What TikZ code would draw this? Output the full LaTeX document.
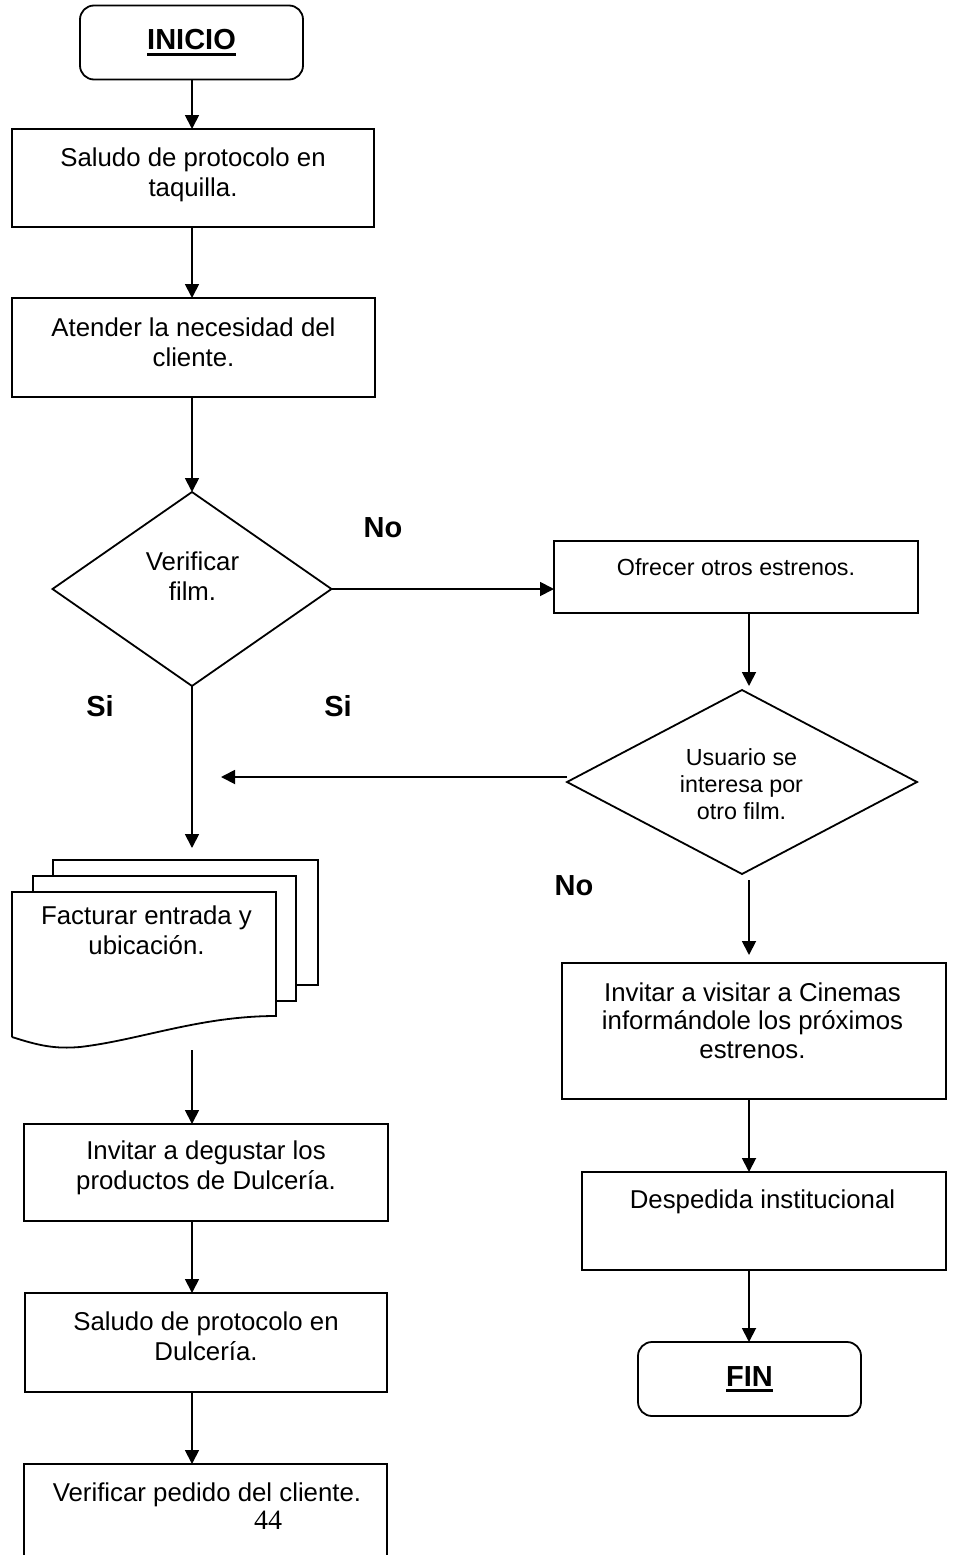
\documentclass[tikz,border=0pt]{standalone}
\usepackage{fontspec}
\setmainfont{Liberation Sans}
\newfontfamily\pagenumfont{Liberation Serif}
\usetikzlibrary{shapes.geometric,arrows.meta}
% bold title with a thick underline
\newcommand\ulword[1]{\vtop{\hbox{#1}\kern2.5pt\hrule height 3pt}}

\begin{document}
\begin{tikzpicture}[x=1pt,y=-1pt,line width=1.8pt,
  box/.style={draw,rectangle,inner sep=0pt,outer sep=0pt},
  term/.style={draw,rectangle,rounded corners=14pt,inner sep=0pt,outer sep=0pt,
    minimum width=223pt,minimum height=74pt,
    font=\bfseries\fontsize{29}{34}\selectfont},
  decision/.style={draw,diamond,inner sep=0pt,outer sep=0pt},
  txt/.style={align=center,inner sep=0pt,anchor=north,font=\fontsize{25.8}{30}\selectfont},
  smalltxt/.style={align=center,inner sep=0pt,anchor=north,font=\fontsize{23.3}{26.8}\selectfont},
  lbl/.style={inner sep=0pt,font=\bfseries\fontsize{29}{34}\selectfont},
  arr/.style={-{Triangle[length=14pt,width=14pt]}}]

\useasboundingbox (0,0) rectangle (954,1555);
\clip (0,0) rectangle (954,1555);

% column guides for the vertical connectors
\coordinate (lc) at (192,0);
\coordinate (rc) at (749,0);

% ---- left column ----
\node[term] (inicio) at (191.5,42.5) {\ulword{INICIO}};

\node[box,minimum width=362pt,minimum height=98pt] (b1) at (193,178) {};
\node[txt] (b1t) at (193,147) {Saludo de protocolo en\\taquilla.};

\node[box,minimum width=363pt,minimum height=99pt] (b2) at (193.5,347.5) {};
\node[txt] (b2t) at (193.5,317) {Atender la necesidad del\\cliente.};

\node[decision,minimum width=279pt,minimum height=194pt] (d1) at (192,589) {};
\node[txt] (d1t) at (192.5,551) {Verificar\\film.};

% stacked documents
\draw[fill=white] (53,985) -- (53,860) -- (318,860) -- (318,985) -- cycle;
\draw[fill=white] (33,1001) -- (33,876) -- (296,876) -- (296,1001) -- cycle;
\draw[fill=white] (12,1037) -- (12,892) -- (276,892) -- (276,1016)
  .. controls (200,1016) and (140,1040) .. (80,1047)
  .. controls (55,1049) and (40,1046) .. (12,1037);
\node[txt] (doct) at (146.5,905) {Facturar entrada y\\ubicación.};
\coordinate (docin) at (192,848);
\coordinate (docout) at (192,1050);

\node[box,minimum width=364pt,minimum height=97pt] (b3) at (206,1172.5) {};
\node[txt] (b3t) at (206,1140) {Invitar a degustar los\\productos de Dulcería.};

\node[box,minimum width=362pt,minimum height=99pt] (b4) at (206,1342.5) {};
\node[txt] (b4t) at (206,1311) {Saludo de protocolo en\\Dulcería.};

\node[box,minimum width=363pt,minimum height=200pt] (b5) at (205.5,1564) {};
\node[txt] (b5t) at (207,1482) {Verificar pedido del cliente.};
\node[font=\pagenumfont\fontsize{28}{32}\selectfont,inner sep=0pt] (pg) at (268,1520) {44};

% ---- right column ----
\node[box,minimum width=364pt,minimum height=72pt] (ofr) at (736,577) {};
\node[smalltxt] (ofrt) at (736,558) {Ofrecer otros estrenos.};

\node[decision,minimum width=350pt,minimum height=184pt] (d2) at (742,782) {};
\node[smalltxt] (d2t) at (741.5,748) {Usuario se\\interesa por\\otro film.};
\coordinate (siend) at (221,777);

\node[box,minimum width=384pt,minimum height=136pt] (inv) at (754,1031) {};
\node[txt,font=\fontsize{25.8}{28.3}\selectfont] (invt) at (752.5,982)
  {Invitar a visitar a Cinemas\\informándole los próximos\\estrenos.};

\node[box,minimum width=364pt,minimum height=98pt] (desp) at (764,1221) {};
\node[txt] (despt) at (762.5,1189) {Despedida institucional};

\node[term] (fin) at (749.5,1379) {\ulword{FIN}};

% ---- branch labels ----
\node[lbl] (no1) at (383,528) {No};
\node[lbl] (si1) at (100,706) {Si};
\node[lbl] (si2) at (338,706) {Si};
\node[lbl] (no2) at (574,886) {No};

% ---- connectors ----
\draw[arr] (inicio.south -| lc) -- (b1.north -| lc);
\draw[arr] (b1.south -| lc) -- (b2.north -| lc);
\draw[arr] (b2.south -| lc) -- (d1.north -| lc);
\draw[arr] (d1.east) -- (ofr.west |- d1.east);
\draw[arr] (d1.south) -- (docin);
\draw[arr] (d2.west |- siend) -- (siend);
\draw[arr] (docout) -- (b3.north -| lc);
\draw[arr] (b3.south -| lc) -- (b4.north -| lc);
\draw[arr] (b4.south -| lc) -- (b5.north -| lc);

\draw[arr,shorten >=4pt] (ofr.south -| rc) -- (d2.north -| rc);
\draw[arr,shorten <=6pt,shorten >=8pt] (d2.south -| rc) -- (inv.north -| rc);
\draw[arr] (inv.south -| rc) -- (desp.north -| rc);
\draw[arr] (desp.south -| rc) -- (fin.north -| rc);
\end{tikzpicture}
\end{document}
